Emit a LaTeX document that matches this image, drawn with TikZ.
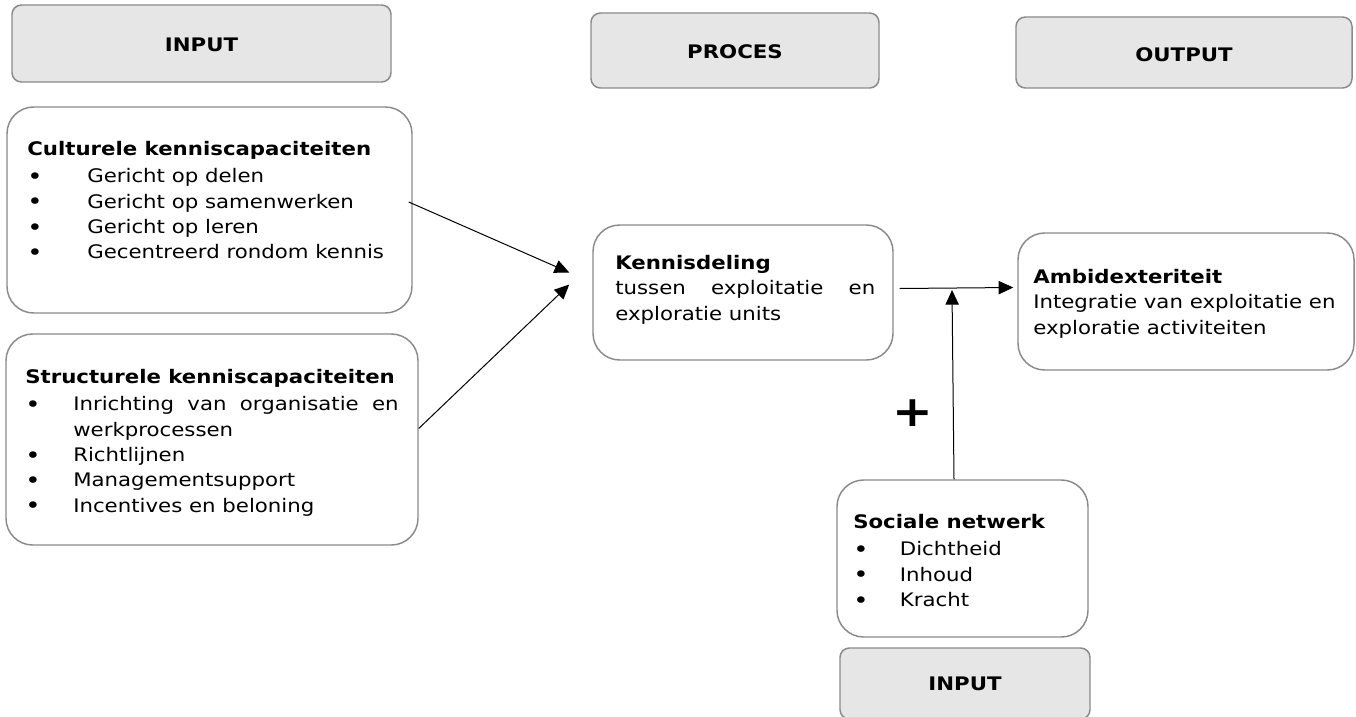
\documentclass[tikz,border=0pt]{standalone}
\usepackage{fontspec}
\setmainfont{DejaVu Sans}[FakeStretch=1.14]
\usetikzlibrary{arrows.meta,fit,calc}
\definecolor{boxgray}{HTML}{8A8A8A}
\definecolor{hdrfill}{HTML}{E6E6E6}
\newcommand{\bitem}[2]{\makebox[#1][l]{\raisebox{-1.2pt}{\fontsize{17}{19}\selectfont\textbullet}}#2}
\tikzset{
  hdr/.style={draw=boxgray, fill=hdrfill, line width=1.1pt, rounded corners=7pt, inner sep=0pt},
  hdrtxt/.style={inner sep=0pt, font=\fontsize{14}{16}\selectfont\bfseries},
  cbox/.style={draw=boxgray, fill=white, line width=1.1pt, rounded corners=20pt, inner sep=0pt},
  txt/.style={anchor=north west, inner sep=0pt, align=left, font=\fontsize{14}{19}\selectfont},
  arr/.style={-{Triangle[length=11pt,width=10pt]}, line width=0.75pt}
}
\begin{document}
\begin{tikzpicture}[x=0.75pt,y=-0.75pt]
\useasboundingbox (0,0) rectangle (1356,717);
% headers
\node[hdr, fit={(12,5)(391,82)}] (hin) {};
\node[hdr, fit={(591,13)(879,88)}] (hpr) {};
\node[hdr, fit={(1016,17)(1352,88)}] (hout) {};
\node[hdr, fit={(840,648)(1090,719)}] (hin2) {};
\node[hdrtxt] (thin) at ($(hin.center)+(0,1)$) {INPUT};
\node[hdrtxt] (thpr) at ($(hpr.center)+(0,1)$) {PROCES};
\node[hdrtxt] (thout) at ($(hout.center)+(0,2)$) {OUTPUT};
\node[hdrtxt] (thin2) at (965,684) {INPUT};
% content boxes
\node[cbox, fit={(7,107)(412,313)}] (cul) {};
\node[cbox, fit={(6,334)(418,545)}] (str) {};
\node[cbox, fit={(593,225)(893,360)}] (kd) {};
\node[cbox, fit={(1018,233)(1354,370)}] (amb) {};
\node[cbox, fit={(837,480)(1088,637)}] (soc) {};
% texts
\node[txt] (tcul) at (27,141) {\textbf{Culturele kenniscapaciteiten}\\[1.5pt]
\bitem{45pt}{Gericht op delen}\\
\bitem{45pt}{Gericht op samenwerken}\\
\bitem{45pt}{Gericht op leren}\\
\bitem{45pt}{Gecentreerd rondom kennis}};
\node[txt] (tstr) at (25,369) {\textbf{Structurele kenniscapaciteiten}\\[1.5pt]
\bitem{36pt}{\makebox[244pt][s]{Inrichting van organisatie en}}\\
\hspace*{36pt}werkprocessen\\
\bitem{36pt}{Richtlijnen}\\
\bitem{36pt}{Managementsupport}\\
\bitem{36pt}{Incentives en beloning}};
\node[txt] (tkd) at (615,255) {\textbf{Kennisdeling}\\
\makebox[195pt][s]{tussen exploitatie en}\\
exploratie units};
\node[txt] (tamb) at (1033,269) {\textbf{Ambidexteriteit}\\
Integratie van exploitatie en\\
exploratie activiteiten};
\node[txt] (tsoc) at (853,514) {\textbf{Sociale netwerk}\\[1.5pt]
\bitem{35pt}{Dichtheid}\\
\bitem{35pt}{Inhoud}\\
\bitem{35pt}{Kracht}};
% plus
\node[font=\fontsize{32}{32}\selectfont\bfseries, inner sep=0pt] (plus) at (913,413) {+};
% connectors
\coordinate (j1) at ($(kd.west)+(-23,-20)$);
\coordinate (j2) at ($(kd.west)+(-23,-8)$);
\draw[arr] ($(cul.east)+(-4,-8)$) -- (j1);
\draw[arr] ($(str.east)+(0,-11)$) -- (j2);
\draw[arr] ($(kd.east)+(6,-4)$) -- ($(amb.west)+(-4,-14)$);
\draw[arr] (soc.north -| 954,0) -- (952,290);
\end{tikzpicture}
\end{document}
